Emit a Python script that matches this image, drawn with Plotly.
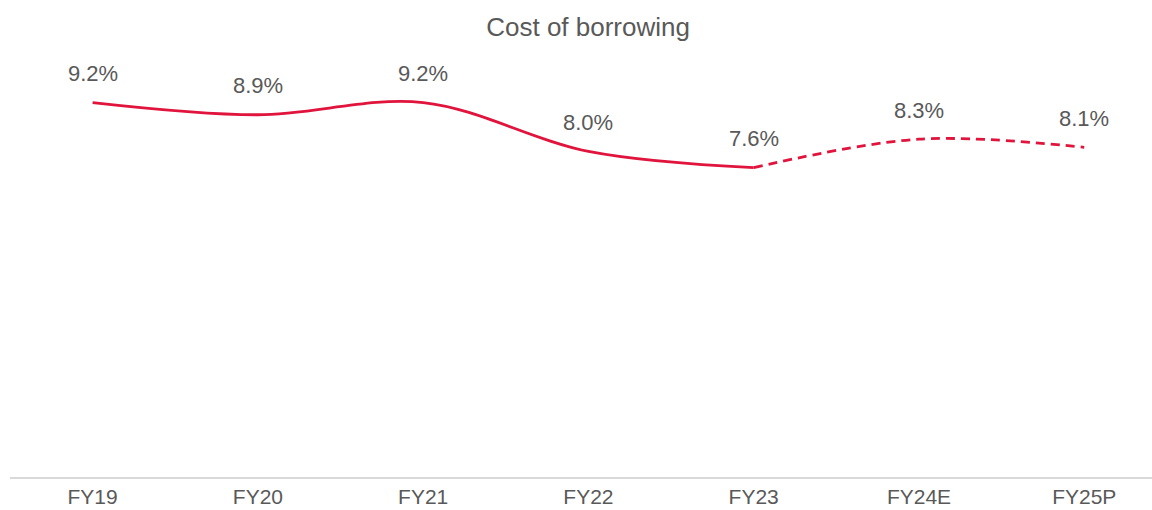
import plotly.graph_objects as go

# data
years = ["FY19", "FY20", "FY21", "FY22", "FY23", "FY24E", "FY25P"]
cost = [9.2, 8.9, 9.2, 8.0, 7.6, 8.3, 8.1]
n_actual = 5  # FY19..FY23 actual, rest estimate/projection

LINE_COLOR = "#E0143C"
TEXT_COLOR = "#595959"
FONT = "Liberation Sans, Arial, sans-serif"

fig = go.Figure()

# actuals - solid
fig.add_trace(go.Scatter(
    x=years[:n_actual], y=cost[:n_actual],
    mode="lines", line=dict(color=LINE_COLOR, width=2.8, shape="spline", smoothing=1.0),
    hoverinfo="skip", showlegend=False,
))
# estimates - dashed
fig.add_trace(go.Scatter(
    x=years[n_actual - 1:], y=cost[n_actual - 1:],
    mode="lines", line=dict(color=LINE_COLOR, width=2.8, dash="9px,6px", shape="spline", smoothing=1.0),
    hoverinfo="skip", showlegend=False,
))

# value labels above each point
for yr, v in zip(years, cost):
    fig.add_annotation(
        x=yr, y=v, text=f"{v:.1f}%", showarrow=False, yshift=29,
        font=dict(size=22, color=TEXT_COLOR, family=FONT),
    )

fig.update_layout(
    width=1152, height=510,
    title=dict(text="Cost of borrowing", x=0.5105, xanchor="center", y=0.947, yanchor="middle",
               font=dict(size=26, color=TEXT_COLOR, family=FONT)),
    paper_bgcolor="white", plot_bgcolor="white",
    margin=dict(l=10, r=0, t=70, b=33, autoexpand=False),
    font=dict(family=FONT, color=TEXT_COLOR),
    xaxis=dict(
        type="category", categoryorder="array", categoryarray=years,
        range=[-0.5, 6.41], showgrid=False, zeroline=False,
        showline=True, linecolor="#D9D9D9", linewidth=1.5,
        ticks="", tickfont=dict(size=21, color=TEXT_COLOR, family=FONT),
        automargin=False, fixedrange=True,
    ),
    yaxis=dict(
        range=[0, 10], visible=False, showgrid=False, zeroline=False,
        fixedrange=True,
    ),
)

# drop the default page margin so the figure sits at the window corner
fig.write_html("out.html", config={"displayModeBar": False},
               post_script="document.body.style.margin='0';")
